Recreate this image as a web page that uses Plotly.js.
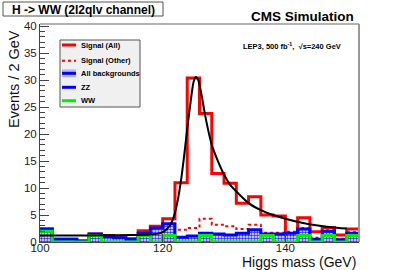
<!DOCTYPE html>
<html><head><meta charset="utf-8">
<script src="https://cdn.plot.ly/plotly-3.0.1.min.js"></script>
<style>html,body{margin:0;padding:0;background:#fff}#plot{width:399px;height:270px}</style>
</head><body><div id="plot"></div>
<script>
// Bin low edges (GeV), bin width 2 GeV
const massLow = [100,102,104,106,108,110,112,114,116,118,120,122,124,126,128,130,132,134,136,138,140,142,144,146,148,150];
const binWidth = 2;
// Signal (All)
const signalAll = [2.4,0.5,0.5,0.2,1.5,1.2,0.8,0.6,2.1,2.9,4.3,11.0,30.4,23.8,12.7,10.9,7.2,8.4,5.0,4.8,1.3,4.5,1.9,2.7,1.3,2.4];
// Signal (Other)
const signalOther = [0,0,0,0,0,0,0,0,0,0,0,2.25,2.6,4.3,3.2,2.9,2.4,3.2,1.7,1.7,1.9,2.6,0.8,2.2,0.6,1.8];
// All backgrounds (ZZ line on top)
const allBkg = [2.4,0.5,0.5,0.2,1.5,1.0,0.8,0.5,1.6,2.6,3.4,0.9,1.1,1.6,1.5,1.3,1.6,2.25,1.5,1.5,1.6,2.4,0.5,2.0,0.4,1.6];
// WW
const ww = [2.0,0,0,0,1.2,0,0,0,1.2,0,1.2,0,0,1.2,0,0,0,0,1.2,0,0,1.2,0,1.2,0,1.2];
// Fit curve
const fitX = [100,105,110,115,118,119.5,120.5,121.3,121.9,122.5,123,123.5,124,124.5,125,125.4,125.8,126.3,127,128,129,130,131,132.5,134,136,138,140,142.5,145,147.5,150];
const fitY = [1.2,1.2,1.25,1.3,1.4,1.6,2.2,3.3,5.0,8.0,11.5,16,21,25.5,29.5,30.6,30.0,27.5,23,18,15,12.5,10.6,8.8,7.2,5.9,5.0,4.3,3.6,3.1,2.75,2.5];

const xTicks = [100,120,140];

function stepX(){ const e = massLow.slice(); e.push(massLow[massLow.length-1]+binWidth); return e; }
function stepY(v){ const a = v.slice(); a.push(v[v.length-1]); return a; }

const FONT = 'Liberation Sans, Arial, Helvetica, sans-serif';
const L = 40, R = 40, T = 24, B = 28, W = 399, H = 270;
const PW = W-L-R, PH = H-T-B;
const px = x => (x-L)/PW;
const py = y => (H-B-y)/PH;

const traces = [
  {x: stepX(), y: stepY(signalAll), type:'scatter', mode:'lines', line:{shape:'hv', color:'#ff0000', width:3}, name:'Signal (All)'},
  {x: stepX(), y: stepY(signalOther), type:'scatter', mode:'lines', line:{shape:'hv', color:'#ff0000', width:2, dash:'dot'}, name:'Signal (Other)'},
  {x: stepX(), y: stepY(allBkg), type:'scatter', mode:'lines', fill:'tozeroy', fillcolor:'rgba(0,0,0,0)',
   fillpattern:{shape:'.', size:3, solidity:0.55, fgcolor:'#2a2aff', bgcolor:'#ffffff'},
   line:{shape:'hv', color:'#0000ff', width:3}, name:'All backgrounds'},
  {x: stepX(), y: stepY(ww), type:'scatter', mode:'lines', line:{shape:'hv', color:'#00ee00', width:3}, name:'WW'},
  {x: fitX, y: fitY, type:'scatter', mode:'lines', line:{shape:'spline', smoothing:0.6, color:'#000000', width:2}, name:'fit'}
];

const legY = [45, 60.7, 73.3, 87.3, 100.7];
const legText = ['Signal (All)','Signal (Other)','All backgrounds','ZZ','WW'];
const shapes = [
  {type:'line', xref:'paper', yref:'paper', x0:0, x1:1, y0:1, y1:1, line:{color:'#999', width:1.5}},
  {type:'line', xref:'paper', yref:'paper', x0:1, x1:1, y0:0, y1:1, line:{color:'#999', width:2}},
  {type:'rect', xref:'paper', yref:'paper', x0:px(3), x1:px(163), y0:py(16), y1:py(2), fillcolor:'#fff', line:{color:'#555', width:1}},
  {type:'rect', xref:'paper', yref:'paper', x0:px(60), x1:px(140), y0:py(107), y1:py(40), fillcolor:'#f0f0f0', line:{color:'#555', width:1}},
  {type:'line', xref:'paper', yref:'paper', x0:px(62), x1:px(76), y0:py(legY[0]), y1:py(legY[0]), line:{color:'#ff0000', width:3}},
  {type:'line', xref:'paper', yref:'paper', x0:px(62), x1:px(76), y0:py(legY[1]), y1:py(legY[1]), line:{color:'#ff0000', width:2, dash:'dot'}},
  {type:'rect', xref:'paper', yref:'paper', x0:px(62), x1:px(76), y0:py(legY[2]+4), y1:py(legY[2]-4), fillcolor:'#b8b8f4', line:{width:0}},
  {type:'line', xref:'paper', yref:'paper', x0:px(62), x1:px(76), y0:py(legY[2]), y1:py(legY[2]), line:{color:'#0000ff', width:3}},
  {type:'line', xref:'paper', yref:'paper', x0:px(62), x1:px(76), y0:py(legY[3]), y1:py(legY[3]), line:{color:'#0000ff', width:3}},
  {type:'line', xref:'paper', yref:'paper', x0:px(62), x1:px(76), y0:py(legY[4]), y1:py(legY[4]), line:{color:'#00ee00', width:3}}
];

const annotations = [
  {text:'<b>H -&gt; WW (2l2qlv channel)</b>', xref:'paper', yref:'paper', x:px(83), y:py(9.5), xanchor:'center', yanchor:'middle', showarrow:false, font:{family:FONT, size:12, color:'#000'}},
  {text:'<b>CMS Simulation</b>', xref:'paper', yref:'paper', x:px(302), y:py(16.5), xanchor:'center', yanchor:'middle', showarrow:false, font:{family:FONT, size:13.5, color:'#000'}},
  {text:'<b>LEP3, 500 fb<sup>-1</sup>,  √s=240 GeV</b>', xref:'paper', yref:'paper', x:px(291.5), y:py(46), xanchor:'center', yanchor:'middle', showarrow:false, font:{family:FONT, size:7.5, color:'#000'}},
  {text:'Events / 2 GeV', xref:'paper', yref:'paper', x:px(14), y:py(28), xanchor:'center', yanchor:'top', textangle:-90, showarrow:false, font:{family:FONT, size:14.5, color:'#111'}},
  {text:'Higgs mass (GeV)', xref:'paper', yref:'paper', x:px(358), y:py(262), xanchor:'right', yanchor:'middle', showarrow:false, font:{family:FONT, size:14, color:'#111'}}
];
legText.forEach((t,i)=>annotations.push({text:'<b>'+t+'</b>', xref:'paper', yref:'paper', x:px(79), y:py(legY[i]), xanchor:'left', yanchor:'middle', showarrow:false, font:{family:FONT, size:7.5, color:'#000'}}));

const layout = {
  width:W, height:H, margin:{l:L, r:R, t:T, b:B, pad:0},
  paper_bgcolor:'#fff', plot_bgcolor:'#fff', showlegend:false,
  font:{family:FONT, color:'#222'},
  xaxis:{range:[100,152], tickvals:xTicks, ticks:'inside', ticklen:8, tickcolor:'#444', showline:true, linecolor:'#444', linewidth:1,
         showgrid:false, zeroline:false, ticklabelstandoff:-5, tickfont:{family:FONT, size:11.5, color:'#222'}},
  yaxis:{range:[0,40.4], dtick:5, tick0:0, ticks:'inside', ticklen:9, tickcolor:'#444', showline:true, linecolor:'#444', linewidth:1,
         showgrid:false, zeroline:false, tickfont:{family:FONT, size:11.5, color:'#222'},
         minor:{ticks:'inside', dtick:1, ticklen:5, tickcolor:'#444', showgrid:false}},
  shapes:shapes, annotations:annotations
};
Plotly.newPlot('plot', traces, layout, {staticPlot:true, displayModeBar:false});
</script></body></html>
